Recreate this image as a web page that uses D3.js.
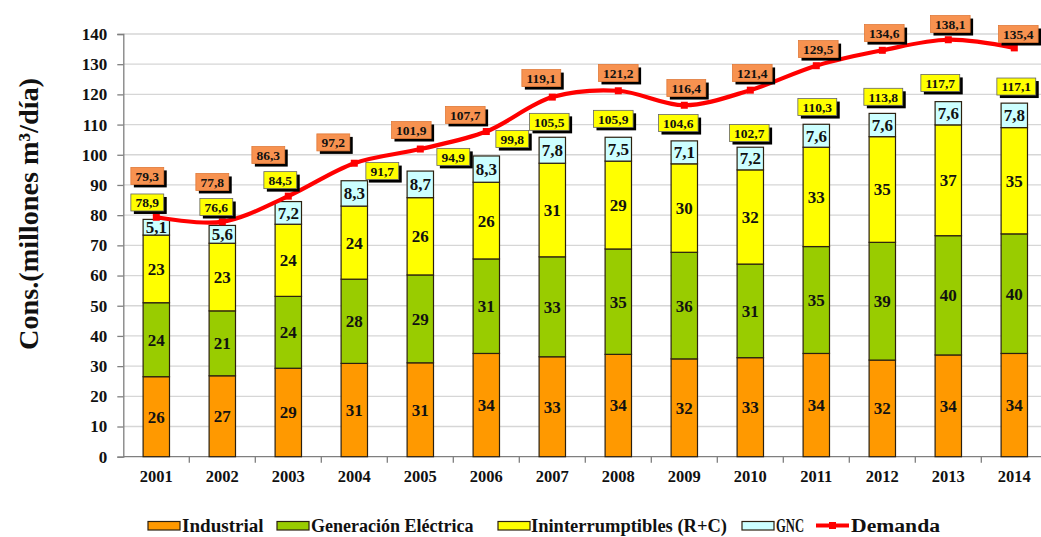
<!DOCTYPE html>
<html>
<head>
<meta charset="utf-8">
<script src="https://cdn.jsdelivr.net/npm/d3@7"></script>
<style>
  html, body { margin: 0; padding: 0; background: #fff; }
  svg { display: block; }
</style>
</head>
<body>
<svg id="chart" width="1041" height="537"></svg>
<script>
// ---------- DATA ----------
const years = ["2001","2002","2003","2004","2005","2006","2007","2008","2009","2010","2011","2012","2013","2014"];
// stacked segment values (millones m3/día)
const industrial       = [26.5, 26.8, 29.3, 30.9, 31.1, 34.2, 33.1, 33.9, 32.4, 32.8, 34.2, 32.0, 33.7, 34.2];
const generacion       = [24.5, 21.5, 23.8, 27.9, 29.1, 31.3, 33.1, 34.9, 35.3, 31.0, 35.4, 39.0, 39.5, 39.6];
const ininterrumpibles = [22.4, 22.4, 23.9, 24.2, 25.6, 25.4, 31.0, 29.1, 29.3, 31.2, 32.9, 35.0, 36.7, 35.2];
const gnc              = [ 5.2,  5.9,  7.5,  8.4,  8.8,  8.7,  8.6,  7.9,  7.6,  7.5,  7.6,  7.7,  7.7,  8.1];
// printed segment labels
const industrialLbl = ["26","27","29","31","31","34","33","34","32","33","34","32","34","34"];
const generacionLbl = ["24","21","24","28","29","31","33","35","36","31","35","39","40","40"];
const ininterLbl    = ["23","23","24","24","26","26","31","29","30","32","33","35","37","35"];
const gncLbl        = ["5,1","5,6","7,2","8,3","8,7","8,3","7,8","7,5","7,1","7,2","7,6","7,6","7,6","7,8"];
// totals of consumption (yellow boxes) and demand (red line, orange boxes)
const totalCons = [78.9, 76.6, 84.5, 91.7, 94.9, 99.8, 105.5, 105.9, 104.6, 102.7, 110.3, 113.8, 117.7, 117.1];
const demanda   = [79.3, 77.8, 86.3, 97.2, 101.9, 107.7, 119.1, 121.2, 116.4, 121.4, 129.5, 134.6, 138.1, 135.4];
const yTicks = [0,10,20,30,40,50,60,70,80,90,100,110,120,130,140];
const seriesNames = ["Industrial", "Generación Eléctrica", "Ininterrumptibles (R+C)", "GNC", "Demanda"];

// ---------- LAYOUT (annotation placement, kept apart from data) ----------
const demandBoxY  = [93.0, 91.0, 99.9, 104.1, 108.2, 113.2, 125.4, 127.1, 122.1, 127.1, 135.0, 140.3, 143.3, 140.0];
const demandBoxDx = [-9, -10, -20, -21, -9, -21, -11, 0, 2, 2, 2, 2, 2, 4];
const totalBoxY   = [84.2, 82.7, 91.6, 94.6, 99.3, 105.2, 110.9, 111.9, 110.5, 107.2, 115.8, 119.2, 123.8, 122.6];
const totalBoxDx  = [-9, -6, -8, 28, 33, 26, -3, -5, -6, -1, 1, 1, -8, 2];

const FONT = "Liberation Serif";
const colors = ["#ff9900", "#99cc00", "#ffff00", "#ccffff"];
const lineColor = "#ff0000";

const svg = d3.select("#chart");
const plotLeft = 123.3, plotRight = 1047.3, plotTop = 34, plotBottom = 456.7;

const x = d3.scaleBand().domain(years).range([plotLeft, plotRight]).paddingInner(0.6).paddingOuter(0.3);
const y = d3.scaleLinear().domain([0, 140]).range([plotBottom, plotTop]);

function setFont(sel, size) {
  return sel.attr("font-family", FONT).attr("font-weight", "bold").attr("font-size", size);
}

// gridlines
svg.append("g").selectAll("line").data(yTicks.filter(d => d > 0)).join("line")
  .attr("x1", plotLeft).attr("x2", plotRight)
  .attr("y1", d => y(d)).attr("y2", d => y(d))
  .attr("stroke", "#d6d6d6").attr("stroke-width", 1.3);

// y axis
const yAxis = svg.append("g").attr("transform", `translate(${plotLeft},0)`)
  .call(d3.axisLeft(y).tickValues(yTicks).tickSize(6).tickPadding(10).tickFormat(d3.format("d")));
yAxis.attr("font-family", FONT);
yAxis.select(".domain").attr("stroke", "#7f7f7f").attr("stroke-width", 1.3);
yAxis.selectAll(".tick line").attr("stroke", "#7f7f7f").attr("stroke-width", 1.3);
setFont(yAxis.selectAll(".tick text"), 17).attr("fill", "#111");

// x axis
const xAxis = svg.append("g").attr("transform", `translate(0,${plotBottom})`)
  .call(d3.axisBottom(x).tickSize(0).tickPadding(14));
xAxis.attr("font-family", FONT);
xAxis.select(".domain").attr("stroke", "#7f7f7f").attr("stroke-width", 1.3)
  .attr("d", `M${plotLeft},0H${plotRight}`);
setFont(xAxis.selectAll(".tick text"), 16.5).attr("fill", "#111");
// tick marks between categories
svg.append("g").selectAll("line").data(years.slice(1)).join("line")
  .attr("x1", d => x(d) - x.step() * x.paddingInner() / 2)
  .attr("x2", d => x(d) - x.step() * x.paddingInner() / 2)
  .attr("y1", plotBottom).attr("y2", plotBottom + 6)
  .attr("stroke", "#7f7f7f").attr("stroke-width", 1.3);

// stacked bars
const table = years.map((yr, i) => ({
  year: yr, s0: industrial[i], s1: generacion[i], s2: ininterrumpibles[i], s3: gnc[i],
  l0: industrialLbl[i], l1: generacionLbl[i], l2: ininterLbl[i], l3: gncLbl[i]
}));
const stack = d3.stack().keys(["s0","s1","s2","s3"])(table);
const labelKeys = ["l0","l1","l2","l3"];

const barsG = svg.append("g");
stack.forEach((layer, li) => {
  const g = barsG.append("g");
  g.selectAll("rect").data(layer).join("rect")
    .attr("x", d => x(d.data.year))
    .attr("width", x.bandwidth())
    .attr("y", d => y(d[1]))
    .attr("height", d => y(d[0]) - y(d[1]))
    .attr("fill", colors[li])
    .attr("stroke", "#2b2010").attr("stroke-width", 1.2);
  setFont(g.selectAll("text").data(layer).join("text"), 17)
    .attr("x", d => x(d.data.year) + x.bandwidth() / 2)
    .attr("y", d => (y(d[0]) + y(d[1])) / 2)
    .attr("dy", "0.35em")
    .attr("text-anchor", "middle")
    .attr("fill", "#111")
    .text(d => d.data[labelKeys[li]]);
});

// demand line
const line = d3.line()
  .x((d, i) => x(years[i]) + x.bandwidth() / 2)
  .y(d => y(d))
  .curve(d3.curveCatmullRom.alpha(0.5));
svg.append("path").datum(demanda)
  .attr("d", line).attr("fill", "none")
  .attr("stroke", lineColor).attr("stroke-width", 4.2)
  .attr("stroke-linejoin", "round").attr("stroke-linecap", "round");
svg.append("g").selectAll("rect").data(demanda).join("rect")
  .attr("x", (d, i) => x(years[i]) + x.bandwidth() / 2 - 3.5)
  .attr("y", d => y(d) - 3.5)
  .attr("width", 7).attr("height", 7)
  .attr("fill", lineColor);

// value boxes
function valueBox(g, cx, cy, txt, fill, stroke) {
  const t = setFont(g.append("text"), 13.5).attr("x", cx).attr("y", cy).attr("dy", "0.35em")
    .attr("text-anchor", "middle").attr("fill", "#111").text(txt);
  const bb = t.node().getBBox();
  const w = bb.width + 9, h = 17;
  g.insert("rect", "text").attr("x", cx - w / 2 + 3).attr("y", cy - h / 2 + 3)
    .attr("width", w).attr("height", h).attr("fill", "#000");
  g.insert("rect", "text").attr("x", cx - w / 2).attr("y", cy - h / 2)
    .attr("width", w).attr("height", h).attr("fill", fill)
    .attr("stroke", stroke).attr("stroke-width", 0.8);
}
const fmt = v => d3.format(".1f")(v).replace(".", ",");
totalCons.forEach((v, i) => {
  valueBox(svg.append("g"), x(years[i]) + x.bandwidth() / 2 + totalBoxDx[i], y(totalBoxY[i]), fmt(v), "#ffff00", "#666");
});
demanda.forEach((v, i) => {
  valueBox(svg.append("g"), x(years[i]) + x.bandwidth() / 2 + demandBoxDx[i], y(demandBoxY[i]), fmt(v), "#f79250", "#e07a3a");
});

// y axis title
setFont(svg.append("text"), 28)
  .attr("transform", "translate(38,214) rotate(-90)")
  .attr("text-anchor", "middle")
  .attr("fill", "#111")
  .attr("textLength", 272).attr("lengthAdjust", "spacingAndGlyphs")
  .text("Cons.(millones  m³/día)");

// legend
const legendSw = [148, 277, 498, 742];
const legendTx = [182, 311, 531, 776];
const legendW = [81.6, 162.6, 196, 28];
const lg = svg.append("g");
for (let i = 0; i < 4; i++) {
  lg.append("rect").attr("x", legendSw[i]).attr("y", 521.5).attr("width", 32).attr("height", 8.5)
    .attr("fill", colors[i]).attr("stroke", "#2b2010").attr("stroke-width", 1.2);
  setFont(lg.append("text"), 18).attr("x", legendTx[i]).attr("y", 532).attr("fill", "#111")
    .attr("textLength", legendW[i]).attr("lengthAdjust", "spacingAndGlyphs")
    .text(seriesNames[i]);
}
lg.append("line").attr("x1", 816).attr("x2", 849).attr("y1", 525.5).attr("y2", 525.5)
  .attr("stroke", lineColor).attr("stroke-width", 4);
lg.append("rect").attr("x", 829).attr("y", 522).attr("width", 7).attr("height", 7).attr("fill", lineColor);
setFont(lg.append("text"), 18).attr("x", 851).attr("y", 532).attr("fill", "#111")
  .attr("textLength", 89).attr("lengthAdjust", "spacingAndGlyphs")
  .text(seriesNames[4]);
</script>
</body>
</html>
